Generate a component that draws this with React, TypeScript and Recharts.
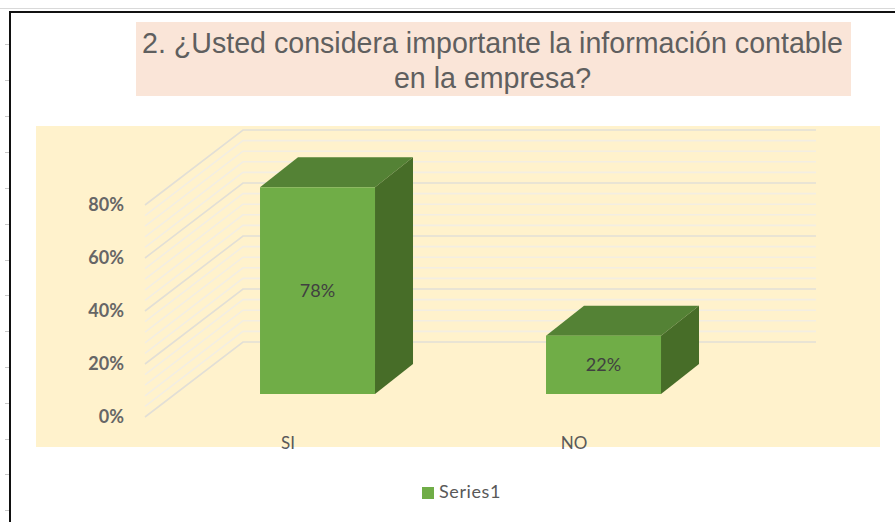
import React from "react";
import { BarChart, Bar, XAxis, YAxis, Legend, LabelList } from "recharts";

const categories = ["SI", "NO"];
const seriesValues = [78, 22];
const gridTicks = [0, 4, 8, 12, 16, 20, 24, 28, 32, 36, 40, 44, 48, 52, 56, 60, 64, 68, 72, 76, 80];
const titleLines = ["2. ¿Usted considera importante la información contable", "en la empresa?"];
const seriesName = "Series1";
const rulerMarks = [44, 80, 116, 152, 188, 224, 260, 295, 331, 367, 403, 439, 474, 510];

const data = categories.map((c, i) => ({ name: c, [seriesName]: seriesValues[i] }));

const FONT = "Lato, Carlito, sans-serif";

function YTick(props: any) {
  const { y, payload } = props;
  const v = payload.value as number;
  const major = v % 20 === 0;
  const stroke = major ? "#E2DFD6" : "#F3EEE2";
  const fy = y + 23;
  const by = y - 52;
  return (
    <g>
      <polyline points={`145,${fy} 243,${by} 816,${by}`} fill="none" stroke={stroke} strokeWidth={1.6} />
      {major ? (
        <text x={124} y={fy} dy={6} textAnchor="end" fontFamily={FONT} fontSize={18} fontWeight={700} fill="#666666">
          {v}%
        </text>
      ) : null}
    </g>
  );
}

function XTick(props: any) {
  const { x, payload } = props;
  return (
    <text x={x - 29.5} y={449} textAnchor="middle" fontFamily={FONT} fontSize={17} fill="#595959">
      {payload.value}
    </text>
  );
}

function Box3D(props: any) {
  const { x, y, width, height } = props;
  const dx = 38;
  const dy = 30;
  const r = x + width;
  const b = y + height;
  return (
    <g>
      <polygon points={`${x},${y} ${x + dx},${y - dy} ${r + dx},${y - dy} ${r},${y}`} fill="#548235" />
      <polygon points={`${r},${y} ${r + dx},${y - dy} ${r + dx},${b - dy} ${r},${b}`} fill="#476D28" />
      <rect x={x} y={y} width={width} height={height} fill="#70AD47" />
    </g>
  );
}

function LegendContent() {
  return (
    <div style={{ display: "flex", alignItems: "center", fontFamily: FONT, fontSize: 18, letterSpacing: 0.6, color: "#595959", lineHeight: "20px" }}>
      <span style={{ display: "inline-block", width: 12, height: 12, background: "#70AD47", marginRight: 5, marginTop: 3 }} />
      {seriesName}
    </div>
  );
}

export default function App() {
  return (
    <div style={{ position: "absolute", left: 0, top: 0, width: 895, height: 522, background: "#fff", overflow: "hidden" }}>
      <div style={{ position: "absolute", left: 0, top: 8, width: 895, height: 1, background: "#D9D9D9" }} />
      <div style={{ position: "absolute", left: 9, top: 11, width: 886, height: 2, background: "#111" }} />
      <div style={{ position: "absolute", left: 9, top: 11, width: 2, height: 511, background: "#111" }} />
      {rulerMarks.map((t) => (
        <div key={t} style={{ position: "absolute", left: 5, top: t, width: 4, height: 1, background: "#C8C8C8" }} />
      ))}
      <div
        style={{
          position: "absolute",
          left: 136,
          top: 22,
          width: 715,
          height: 74,
          background: "#FAE5D8",
          textAlign: "center",
          fontFamily: "'Liberation Sans', Arial, sans-serif",
          fontSize: 28.6,
          lineHeight: "34.5px",
          color: "#5F5F5F",
          paddingTop: 4,
          paddingRight: 2,
          boxSizing: "border-box",
          whiteSpace: "nowrap",
        }}
      >
        {titleLines.map((l) => (
          <div key={l}>{l}</div>
        ))}
      </div>
      <div style={{ position: "absolute", left: 36, top: 126, width: 844, height: 321, background: "#FFF2CC" }} />
      <div style={{ position: "absolute", left: 0, top: 0 }}>
        <BarChart
          width={895}
          height={522}
          data={data}
          margin={{ top: 182, bottom: 127, left: 173.5, right: 148.5 }}
          barCategoryGap="29.9%"
        >
          <YAxis
            width={1}
            domain={[0, 80]}
            ticks={gridTicks}
            interval={0}
            axisLine={false}
            tickLine={false}
            tick={YTick}
          />
          <XAxis dataKey="name" height={1} axisLine={false} tickLine={false} tick={XTick} interval={0} />
          <Bar dataKey={seriesName} isAnimationActive={false} fill="none" />
        </BarChart>
      </div>
      <div style={{ position: "absolute", left: 0, top: 0 }}>
        <BarChart
          width={895}
          height={522}
          data={data}
          margin={{ top: 182, bottom: 128, left: 174.5, right: 148.5 }}
          barCategoryGap="29.9%"
        >
          <YAxis hide domain={[0, 80]} />
          <XAxis hide dataKey="name" />
          <Legend
            verticalAlign="middle"
            align="center"
            content={LegendContent}
            wrapperStyle={{ position: "absolute", left: 422, top: 481, width: "auto" }}
          />
          <Bar dataKey={seriesName} isAnimationActive={false} shape={Box3D} fill="#70AD47">
            <LabelList
              dataKey={seriesName}
              position="center"
              formatter={(v: any) => `${v}%`}
              fontFamily={FONT}
              fontSize={18}
              fill="#404040"
            />
          </Bar>
        </BarChart>
      </div>
    </div>
  );
}
